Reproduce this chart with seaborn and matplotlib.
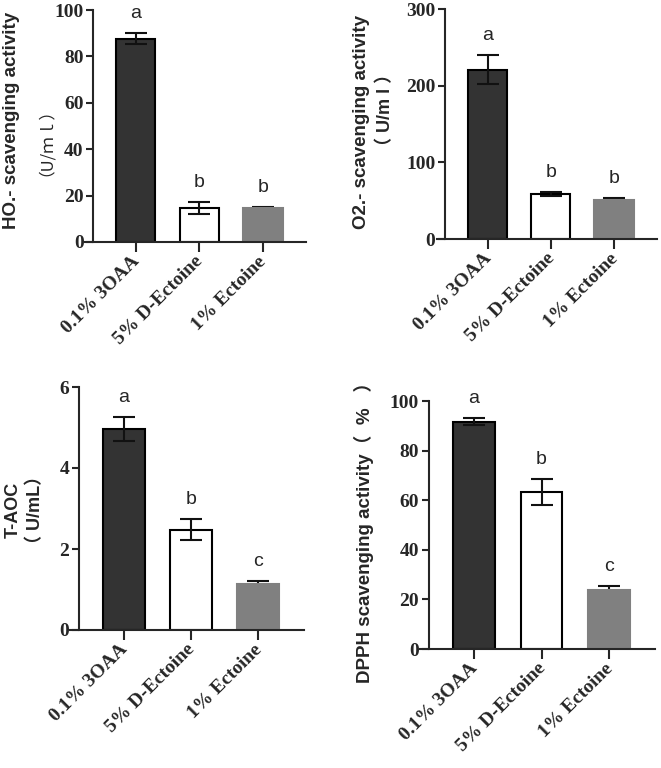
import pandas as pd
import matplotlib
matplotlib.use('Agg')
import matplotlib.pyplot as plt
import matplotlib.transforms as mtransforms
import seaborn as sns

sns.set_style('ticks')
# tick labels: bold serif; other texts set their own family
plt.rcParams['font.family'] = ['Liberation Serif', 'Noto Sans CJK SC']
plt.rcParams['font.weight'] = 'bold'
plt.rcParams['font.size'] = 13
plt.rcParams['xtick.labelsize'] = 14
plt.rcParams['ytick.labelsize'] = 14

SANS = ['Liberation Sans', 'Noto Sans CJK SC']

groups = ['0.1% 3OAA', '5% D-Ectoine', '1% Ectoine']
letters_abb = ['a', 'b', 'b']
letters_abc = ['a', 'b', 'c']

ho_mean = [87.7, 14.6, 14.6]
ho_err = [2.2, 2.5, 0.7]
o2_mean = [221, 58.8, 51.0]
o2_err = [18.5, 2.8, 2.0]
taoc_mean = [4.96, 2.47, 1.14]
taoc_err = [0.29, 0.26, 0.07]
dpph_mean = [91.7, 63.3, 23.8]
dpph_err = [1.4, 5.2, 1.6]

fill_colors = {'0.1% 3OAA': '#333333', '5% D-Ectoine': '#ffffff', '1% Ectoine': '#808080'}
edge_colors = ['#000000', '#000000', '#808080']

W, H = 661, 768
fig = plt.figure(figsize=(W / 100, H / 100), dpi=100)


def px_axes(left, right, top, bottom):
    return fig.add_axes([left / W, 1 - bottom / H, (right - left) / W, (bottom - top) / H])


def px_text(x, y, s, **kw):
    fig.text(x / W, 1 - y / H, s, rotation=90, ha='center', va='center', **kw)


def panel(ax, means, errs, letters, ymax, yticks):
    df = pd.DataFrame({'group': groups, 'value': means})
    sns.barplot(data=df, x='group', y='value', hue='group', order=groups, hue_order=groups,
                palette=fill_colors, width=0.62, errorbar=None, legend=False, ax=ax)
    for patch, ec in zip(ax.patches, edge_colors):
        patch.set_edgecolor(ec)
        patch.set_linewidth(1.5)
        patch.set_zorder(2)
    for i, (m, e) in enumerate(zip(means, errs)):
        # last bar hides the lower whisker, like the original
        z = 1 if i == 2 else 3
        ax.errorbar(i, m, yerr=e, fmt='none', ecolor='#111111', elinewidth=1.5,
                    capsize=8, capthick=1.5, zorder=z)
        ax.annotate(letters[i], (i, m + e), xytext=(0, 14), textcoords='offset points',
                    ha='center', va='center', fontsize=14, family=SANS, fontweight='normal')
    ax.set_xlim(-0.8, 2.68)
    ax.set_ylim(0, ymax)
    ax.set_yticks(yticks)
    ax.set_xticks(range(len(groups)), labels=groups)
    ax.set_xlabel('')
    ax.set_ylabel('')
    sns.despine(ax=ax)
    ax.spines['left'].set_position(('data', -0.67))
    ax.spines['left'].set_linewidth(1.5)
    ax.spines['bottom'].set_linewidth(1.5)
    ax.tick_params(axis='y', direction='out', length=5, width=1.5, pad=2)
    ax.tick_params(axis='x', direction='out', length=7, width=1.5, pad=1)
    offset = mtransforms.ScaledTranslation(7 / 100, 0, fig.dpi_scale_trans)
    for lab in ax.get_xticklabels():
        lab.set_rotation(45)
        lab.set_ha('right')
        lab.set_transform(lab.get_transform() + offset)


ax1 = px_axes(85, 306, 10, 242)
panel(ax1, ho_mean, ho_err, letters_abb, 100, [0, 20, 40, 60, 80, 100])
px_text(12, 120, 'HO.- scavenging activity', fontsize=13.5, fontweight='bold', family=SANS)
px_text(37, 134, '（U/ｍｌ）', fontsize=12, fontweight='normal', family=['Noto Sans CJK SC'])

ax2 = px_axes(437, 657, 9, 239)
panel(ax2, o2_mean, o2_err, letters_abb, 300, [0, 100, 200, 300])
px_text(362, 122, 'O2.- scavenging activity', fontsize=13.5, fontweight='bold', family=SANS)
px_text(386, 110, '（ U/m l ）', fontsize=13, fontweight='bold', family=SANS)

ax3 = px_axes(70, 304, 387, 630)
panel(ax3, taoc_mean, taoc_err, letters_abc, 6, [0, 2, 4, 6])
px_text(13, 510, 'T-AOC', fontsize=13, fontweight='bold', family=SANS)
px_text(36, 510, '（ U/mL）', fontsize=13, fontweight='bold', family=SANS)

ax4 = px_axes(420, 655, 401, 649)
panel(ax4, dpph_mean, dpph_err, letters_abc, 100, [0, 20, 40, 60, 80, 100])
px_text(364, 528, 'DPPH scavenging activity（  %   ）', fontsize=13.5, fontweight='bold', family=SANS)

fig.savefig('out.png', dpi=100, facecolor='white')
